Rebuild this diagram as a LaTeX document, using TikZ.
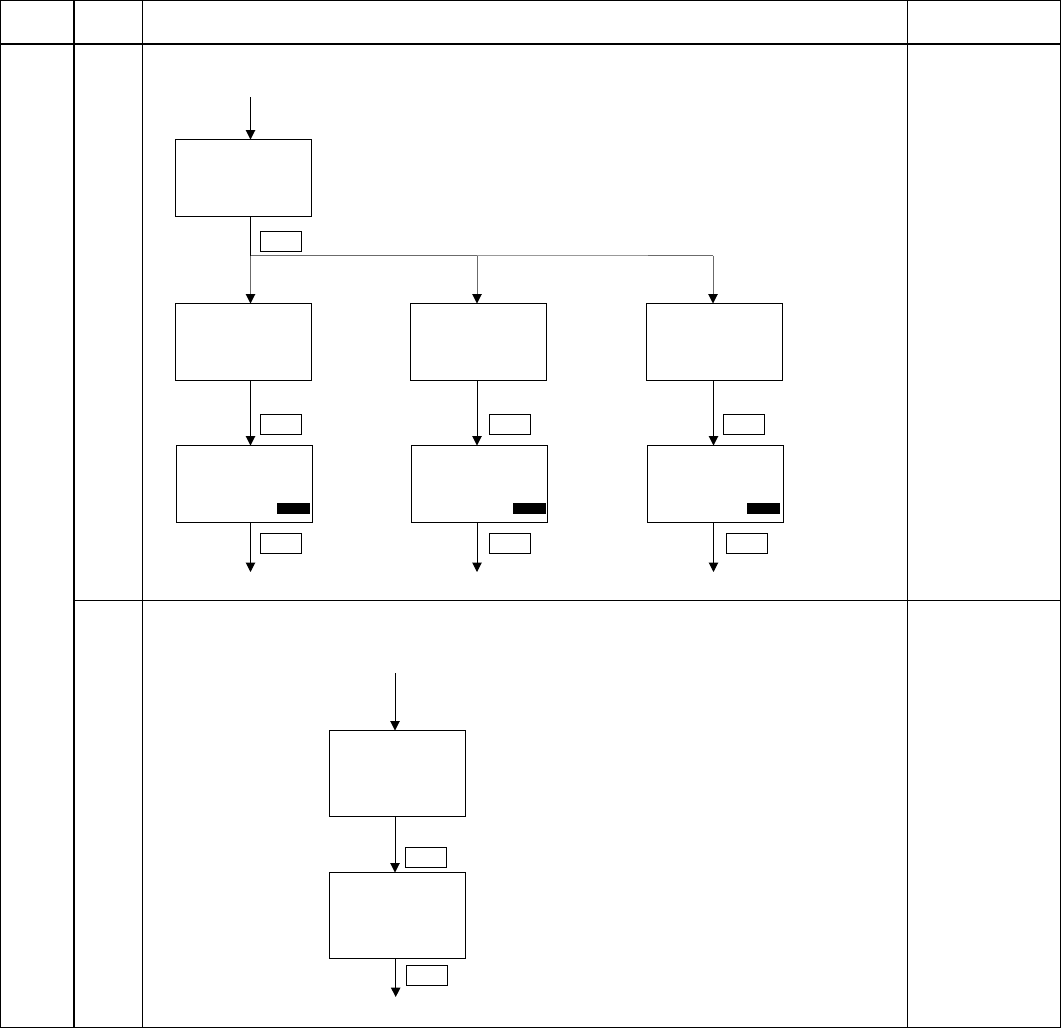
\documentclass[tikz,border=0pt]{standalone}
\usetikzlibrary{arrows.meta}
\begin{document}
\begin{tikzpicture}[x=1pt,y=-1pt,
  box/.style={draw,line width=1pt,inner sep=0pt,outer sep=0pt,anchor=north west,minimum width=136pt,minimum height=77pt},
  tallbox/.style={box,minimum height=86pt},
  tag/.style={draw,line width=0.9pt,inner sep=0pt,outer sep=0pt,anchor=north west,minimum width=41pt,minimum height=20pt},
  blk/.style={fill=black,inner sep=0pt,outer sep=0pt,anchor=north west,minimum width=33pt,minimum height=10.5pt},
  arr/.style={line width=1pt,-{Triangle[width=9.5pt,length=9.5pt,color=black]}},
  garr/.style={arr,draw=black!58},
  grid/.style={line width=1.2pt}]
\useasboundingbox (0,0) rectangle (1061,1029);
% table
\draw[grid] (0.6,0.6) rectangle (1060.2,1027.6);
\draw[grid] (74,0.6) -- (74,1027.6);
\draw[grid] (142.3,0.6) -- (142.3,1027.6);
\draw[grid] (907.3,0.6) -- (907.3,1027.6);
\draw[grid] (0.6,44) -- (1060.2,44);
\draw[grid] (74,600.3) -- (1060.2,600.3);

% ---- section 1
\coordinate (k1) at (250.5,0);
\coordinate (k2) at (477,0);
\coordinate (k3) at (713.5,0);
\node[box] (A) at (175.5,139.5) {};
\coordinate (a0) at (250.5,97);
\draw[arr] (a0) -- (a0 |- A.north);
\coordinate (br) at (250.5,255.5);
\coordinate (br3) at (713,255.5);
\draw[line width=1pt] (br |- A.south) -- (br);
\node[tag] (tA) at (260.5,231.5) {};
\node[box] (B1) at (175.5,303.5) {};
\node[box] (B2) at (410.5,303.5) {};
\node[box] (B3) at (646.5,303.5) {};
\draw[line width=1.1pt,draw=black!58] (br) -- (br -| k2);
\draw[line width=1.1pt,draw=black!40] (br -| k2) -- (648,255.5);
\draw[line width=1.1pt,draw=black!58] (648,255.5) -- (br3);
\draw[garr] (br) -- (br |- B1.north);
\draw[garr] (br -| k2) -- (k2 |- B2.north);
\draw[garr] (br3) -- (br3 |- B3.north);

\node[box] (C1) at (176.5,445.5) {};
\node[box] (C2) at (411.5,445.5) {};
\node[box] (C3) at (647.5,445.5) {};
\draw[arr] (k1 |- B1.south) -- (k1 |- C1.north);
\draw[arr] (k2 |- B2.south) -- (k2 |- C2.north);
\draw[arr] (k3 |- B3.south) -- (k3 |- C3.north);
\node[tag] (t1) at (260.5,414.5) {};
\node[tag] (t2) at (489,414.5) {};
\node[tag] (t3) at (723.5,414.5) {};
\node[blk] (k1b) at (277,503) {};
\node[blk] (k2b) at (513,503) {};
\node[blk] (k3b) at (747,503) {};
\coordinate (e1) at (250.5,572);
\coordinate (e2) at (477,572);
\coordinate (e3) at (713.5,572);
\draw[arr] (e1 |- C1.south) -- (e1);
\draw[arr] (e2 |- C2.south) -- (e2);
\draw[arr] (e3 |- C3.south) -- (e3);
\node[tag] (u1) at (260.5,533.5) {};
\node[tag] (u2) at (489,533.5) {};
\node[tag] (u3) at (726.5,533.5) {};

% ---- section 2
\node[tallbox] (D) at (329.5,730.5) {};
\node[tallbox] (E) at (329.5,872.5) {};
\coordinate (d0) at (395,673);
\draw[arr] (d0) -- (d0 |- D.north);
\draw[arr] (d0 |- D.south) -- (d0 |- E.north);
\node[tag] (tD) at (405.5,847.5) {};
\coordinate (f0) at (395.7,997);
\draw[arr] (f0 |- E.south) -- (f0);
\node[tag] (tE) at (406.5,965.5) {};
\end{tikzpicture}
\end{document}
